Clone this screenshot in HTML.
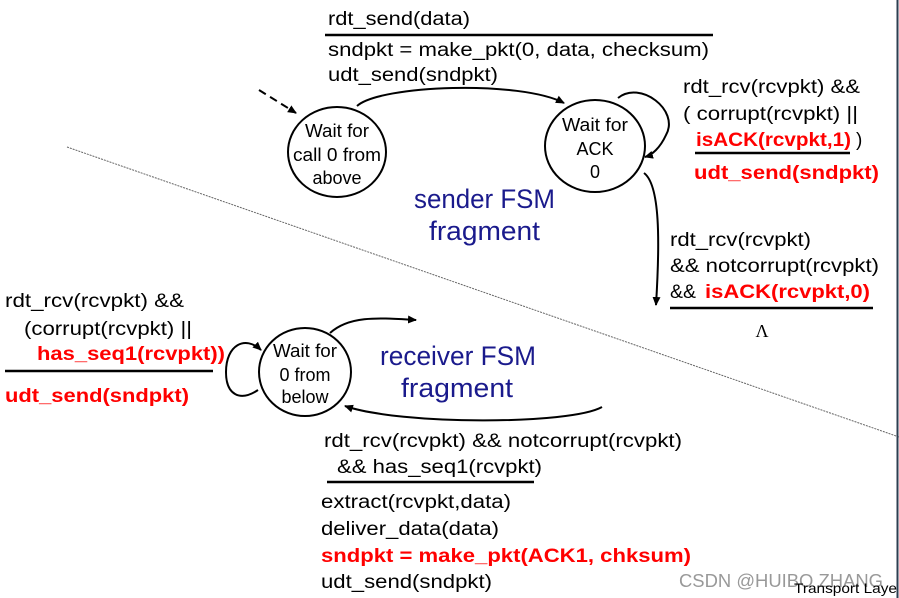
<!DOCTYPE html>
<html><head><meta charset="utf-8"><style>
html,body{margin:0;padding:0;background:#fff;width:899px;height:598px;overflow:hidden}
svg{display:block}
text{font-family:"Liberation Sans Narrow","Liberation Sans",sans-serif;font-size:19px;fill:#000}
.r{fill:#f00;font-weight:bold}
.b{fill:#1a1a8c;font-size:27px}
.s{font-size:18px}
</style></head><body>
<svg width="899" height="598" viewBox="0 0 899 598" xmlns="http://www.w3.org/2000/svg">
<defs><marker id="a" markerWidth="10" markerHeight="10" refX="8" refY="5" orient="auto" markerUnits="userSpaceOnUse"><path d="M0,1 L9,5 L0,9 z" fill="#000"/></marker></defs>
<line x1="67" y1="147" x2="899" y2="437" stroke="#666" stroke-width="1" stroke-dasharray="2,1"/>
<line x1="897.5" y1="0" x2="897.5" y2="598" stroke="#2c3e50" stroke-width="2"/>

<!-- sender -->
<text x="328" y="25" textLength="142" lengthAdjust="spacingAndGlyphs">rdt_send(data)</text>
<line x1="325" y1="35" x2="713" y2="35" stroke="#000" stroke-width="2.5"/>
<text x="328" y="56" textLength="381" lengthAdjust="spacingAndGlyphs">sndpkt = make_pkt(0, data, checksum)</text>
<text x="328" y="81" textLength="170" lengthAdjust="spacingAndGlyphs">udt_send(sndpkt)</text>
<line x1="259" y1="90" x2="296" y2="113" stroke="#000" stroke-width="2" stroke-dasharray="8,5" marker-end="url(#a)"/>
<ellipse cx="337" cy="152" rx="49" ry="45" fill="none" stroke="#000" stroke-width="2"/>
<text class="s" x="337" y="137" text-anchor="middle" textLength="64" lengthAdjust="spacingAndGlyphs">Wait for</text>
<text class="s" x="337" y="161" text-anchor="middle" textLength="88" lengthAdjust="spacingAndGlyphs">call 0 from</text>
<text class="s" x="337" y="184" text-anchor="middle">above</text>
<path d="M357,106 C380,85 520,80 564,103" fill="none" stroke="#000" stroke-width="2" marker-end="url(#a)"/>
<ellipse cx="595" cy="146" rx="50" ry="46" fill="none" stroke="#000" stroke-width="2"/>
<text class="s" x="595" y="131" text-anchor="middle" textLength="66" lengthAdjust="spacingAndGlyphs">Wait for</text>
<text class="s" x="595" y="155" text-anchor="middle">ACK</text>
<text class="s" x="595" y="178" text-anchor="middle">0</text>
<path d="M618,98 C640,80 680,110 666,135 C660,148 652,155 645,157" fill="none" stroke="#000" stroke-width="2" marker-end="url(#a)"/>
<path d="M644,173 C660,185 660,240 656,305" fill="none" stroke="#000" stroke-width="2" marker-end="url(#a)"/>
<text x="683" y="93" textLength="177" lengthAdjust="spacingAndGlyphs">rdt_rcv(rcvpkt) &amp;&amp;</text>
<text x="683" y="120" textLength="175" lengthAdjust="spacingAndGlyphs">( corrupt(rcvpkt) ||</text>
<text class="r" x="696" y="146" textLength="155" lengthAdjust="spacingAndGlyphs">isACK(rcvpkt,1)</text>
<text x="856" y="146">)</text>
<line x1="695" y1="153" x2="850" y2="153" stroke="#000" stroke-width="2.5"/>
<text class="r" x="694" y="179" textLength="185" lengthAdjust="spacingAndGlyphs">udt_send(sndpkt)</text>
<text class="b" x="414" y="208" textLength="141" lengthAdjust="spacingAndGlyphs">sender FSM</text>
<text class="b" x="429" y="240" textLength="111" lengthAdjust="spacingAndGlyphs">fragment</text>
<text x="670" y="246" textLength="141" lengthAdjust="spacingAndGlyphs">rdt_rcv(rcvpkt)</text>
<text x="670" y="272" textLength="209" lengthAdjust="spacingAndGlyphs">&amp;&amp; notcorrupt(rcvpkt)</text>
<text x="670" y="298" textLength="26" lengthAdjust="spacingAndGlyphs">&amp;&amp;</text>
<text class="r" x="705" y="298" textLength="165" lengthAdjust="spacingAndGlyphs">isACK(rcvpkt,0)</text>
<line x1="670" y1="308" x2="873" y2="308" stroke="#000" stroke-width="2.5"/>
<text x="762" y="337" text-anchor="middle" style="font-family:'Liberation Serif',serif;font-size:18px">Λ</text>

<!-- receiver -->
<text x="5" y="307" textLength="179" lengthAdjust="spacingAndGlyphs">rdt_rcv(rcvpkt) &amp;&amp;</text>
<text x="24" y="335" textLength="168" lengthAdjust="spacingAndGlyphs">(corrupt(rcvpkt) ||</text>
<text class="r" x="37" y="360" textLength="188" lengthAdjust="spacingAndGlyphs">has_seq1(rcvpkt))</text>
<line x1="5" y1="371" x2="213" y2="371" stroke="#000" stroke-width="2.5"/>
<text class="r" x="5" y="402" textLength="184" lengthAdjust="spacingAndGlyphs">udt_send(sndpkt)</text>
<ellipse cx="305" cy="372" rx="46" ry="44" fill="none" stroke="#000" stroke-width="2"/>
<text class="s" x="305" y="357" text-anchor="middle" textLength="64" lengthAdjust="spacingAndGlyphs">Wait for</text>
<text class="s" x="305" y="381" text-anchor="middle">0 from</text>
<text class="s" x="305" y="403" text-anchor="middle">below</text>
<path d="M258,390 C240,402 226,395 226,372 C226,345 245,335 261,350" fill="none" stroke="#000" stroke-width="2" marker-end="url(#a)"/>
<path d="M330,333 C350,315 380,318 416,320" fill="none" stroke="#000" stroke-width="2" marker-end="url(#a)"/>
<path d="M602,407 C570,425 400,425 345,406" fill="none" stroke="#000" stroke-width="2" marker-end="url(#a)"/>
<text class="b" x="380" y="365" textLength="156" lengthAdjust="spacingAndGlyphs">receiver FSM</text>
<text class="b" x="401" y="397" textLength="112" lengthAdjust="spacingAndGlyphs">fragment</text>
<text x="324" y="447" textLength="358" lengthAdjust="spacingAndGlyphs">rdt_rcv(rcvpkt) &amp;&amp; notcorrupt(rcvpkt)</text>
<text x="337" y="473" textLength="205" lengthAdjust="spacingAndGlyphs">&amp;&amp; has_seq1(rcvpkt)</text>
<line x1="327" y1="482" x2="534" y2="482" stroke="#000" stroke-width="2.5"/>
<text x="321" y="508" textLength="190" lengthAdjust="spacingAndGlyphs">extract(rcvpkt,data)</text>
<text x="321" y="535" textLength="178" lengthAdjust="spacingAndGlyphs">deliver_data(data)</text>
<text class="r" x="321" y="562" textLength="370" lengthAdjust="spacingAndGlyphs">sndpkt = make_pkt(ACK1, chksum)</text>
<text x="321" y="588" textLength="171" lengthAdjust="spacingAndGlyphs">udt_send(sndpkt)</text>
<text x="679" y="587" textLength="204" lengthAdjust="spacingAndGlyphs" style="fill:#999;font-size:18px">CSDN @HUIBO ZHANG</text>
<text x="794" y="593" style="font-size:14px" textLength="103" lengthAdjust="spacingAndGlyphs">Transport Laye</text>
</svg>
</body></html>
